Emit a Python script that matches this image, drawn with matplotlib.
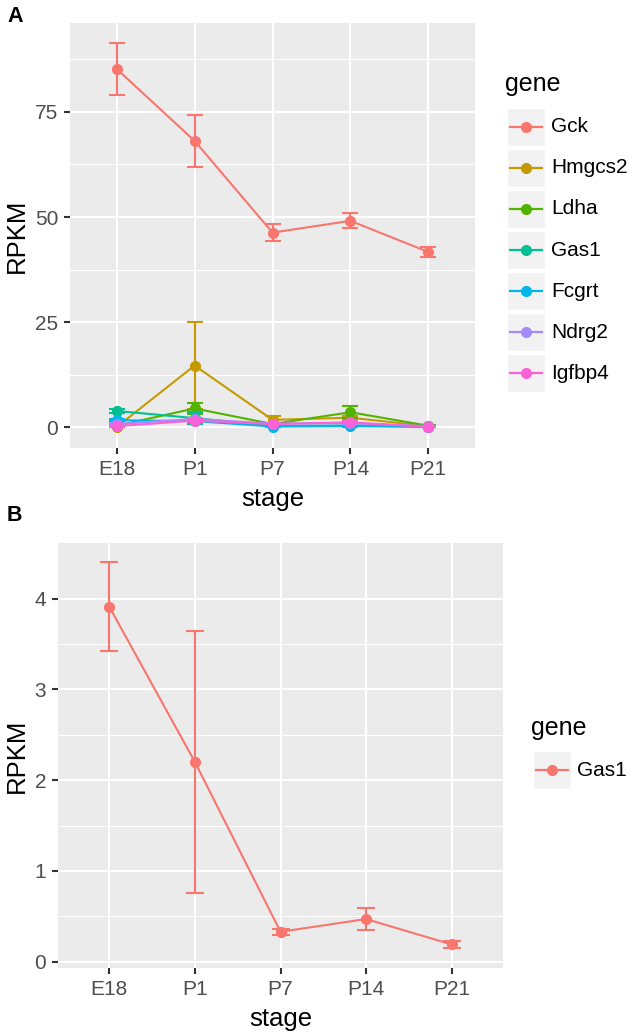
import numpy as np
import matplotlib
matplotlib.use("Agg")
import matplotlib.pyplot as plt
from matplotlib.patches import Rectangle
from matplotlib.lines import Line2D

plt.rcParams['font.family'] = ['Liberation Sans', 'DejaVu Sans']

W, H = 633, 1034

stages = ['E18', 'P1', 'P7', 'P14', 'P21']
genes = ['Gck', 'Hmgcs2', 'Ldha', 'Gas1', 'Fcgrt', 'Ndrg2', 'Igfbp4']
colors = ['#F8766D', '#C49A00', '#53B400', '#00C094', '#00B6EB', '#A58AFF', '#FB61D7']

# RPKM means per gene (panel A)
gck = [85.2, 68.1, 46.3, 49.1, 41.7]
hmgcs2 = [0.1, 14.7, 1.8, 2.3, 0.3]
ldha = [0.4, 4.5, 0.8, 3.6, 0.4]
gas1 = [3.91, 2.20, 0.33, 0.47, 0.19]
fcgrt = [1.7, 1.5, 0.2, 0.3, 0.1]
ndrg2 = [0.8, 2.0, 0.9, 1.0, 0.3]
igfbp4 = [0.3, 1.6, 0.8, 1.2, 0.1]

# errors
gck_err = [6.1, 6.1, 2.0, 1.8, 1.2]
hmgcs2_err = [0.1, 10.4, 0.9, 0.5, 0.1]
ldha_err = [0.2, 1.2, 0.2, 1.4, 0.1]
gas1_err = [0.49, 1.44, 0.035, 0.12, 0.04]
fcgrt_err = [0.3, 0.3, 0.1, 0.1, 0.05]
ndrg2_err = [0.2, 0.3, 0.1, 0.2, 0.05]
igfbp4_err = [0.1, 0.3, 0.1, 0.2, 0.05]

means = [gck, hmgcs2, ldha, gas1, fcgrt, ndrg2, igfbp4]
errs = [gck_err, hmgcs2_err, ldha_err, gas1_err, fcgrt_err, ndrg2_err, igfbp4_err]


def fx(x):
    return x / W


def fy(y):
    return 1 - y / H


def style_ax(ax, yticks, yminor):
    ax.set_facecolor('#EBEBEB')
    for s in ax.spines.values():
        s.set_visible(False)
    ax.set_xticks(range(len(stages)))
    ax.set_xticklabels(stages)
    ax.set_yticks(yticks)
    ax.set_yticks(yminor, minor=True)
    ax.grid(which='major', color='white', lw=1.5)
    ax.grid(which='minor', axis='y', color='white', lw=0.8)
    ax.set_axisbelow(True)
    ax.tick_params(which='major', length=4.5, width=1.5, color='#333333',
                   labelsize=15, labelcolor='#4D4D4D', pad=4)
    ax.tick_params(which='minor', length=0)
    ax.set_xlim(-0.6, 4.6)
    ax.set_xlabel('stage', fontsize=18.5, labelpad=6)
    ax.set_ylabel('RPKM', fontsize=18.5, labelpad=4)


def legend(fig, title, labels, cols, x0, title_y, first_y, step):
    fig.text(fx(x0 - 2), fy(title_y), title, fontsize=18,
             va='baseline', ha='left')
    for i, (lab, c) in enumerate(zip(labels, cols)):
        cy = first_y + i * step
        fig.add_artist(Rectangle((fx(x0), fy(cy + 19)), 38 / W, 38 / H,
                                 transform=fig.transFigure, facecolor='#F2F2F2',
                                 edgecolor='white', lw=1))
        fig.add_artist(Line2D([fx(x0 + 3), fx(x0 + 35)], [fy(cy), fy(cy)],
                              transform=fig.transFigure, color=c, lw=1.6))
        fig.add_artist(Line2D([fx(x0 + 19)], [fy(cy)], transform=fig.transFigure,
                              color=c, marker='o', ms=7))
        fig.text(fx(x0 + 44), fy(cy), lab, fontsize=15, va='center', ha='left')


fig = plt.figure(figsize=(W / 100, H / 100), dpi=100)

# Panel A
axA = fig.add_axes([fx(70), fy(448), (475 - 70) / W, (448 - 22.7) / H])
x = np.arange(len(stages))
for i, (g, m, e, c) in enumerate(zip(genes, means, errs, colors)):
    axA.errorbar(x, m, yerr=e, color=c, lw=1.5, marker='o', ms=7,
                 capsize=5.5, capthick=1.5, elinewidth=1.5, zorder=3 + i)
axA.set_ylim(-4.9, 96.2)
style_ax(axA, [0, 25, 50, 75], [12.5, 37.5, 62.5, 87.5])
legend(fig, 'gene', genes, colors, 507, 91, 126.7, 41.1)
fig.text(fx(7), fy(6), 'A', fontsize=15.5, fontweight='bold', va='top')

# Panel B
axB = fig.add_axes([fx(58), fy(967.7), (503 - 58) / W, (967.7 - 543.3) / H])
axB.errorbar(x, gas1, yerr=gas1_err, color=colors[0], lw=1.5, marker='o', ms=7,
             capsize=6.3, capthick=1.5, elinewidth=1.5, zorder=3)
axB.set_ylim(-0.066, 4.61)
style_ax(axB, [0, 1, 2, 3, 4], [0.5, 1.5, 2.5, 3.5])
legend(fig, 'gene', ['Gas1'], [colors[0]], 533, 735, 770, 41.1)
fig.text(fx(7), fy(505), 'B', fontsize=15.5, fontweight='bold', va='top')

fig.savefig('out.png', dpi=100)
